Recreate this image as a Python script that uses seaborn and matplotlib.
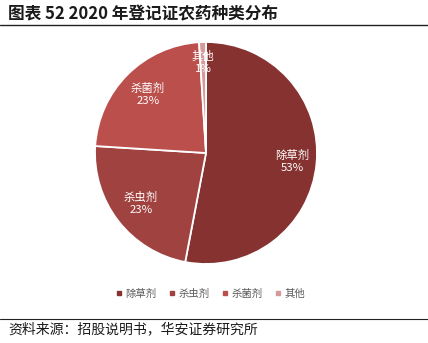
import matplotlib
matplotlib.use("Agg")
import matplotlib.pyplot as plt
from matplotlib.lines import Line2D
import numpy as np
import seaborn as sns

# Pesticide registration categories, 2020 (share of certificates, %)
categories = ["除草剂", "杀虫剂", "杀菌剂", "其他"]
shares = [53, 23, 23, 1]
colors = ["#853231", "#A04340", "#BA4F4C", "#D69A9B"]

title = "图表 52 2020 年登记证农药种类分布"
source = "资料来源：招股说明书，华安证券研究所"

sns.set_theme(style="white")
plt.rcParams["font.family"] = ["Noto Sans CJK SC", "DejaVu Sans"]

W, H = 428, 343
fig = plt.figure(figsize=(W / 100, H / 100), dpi=100)
fig.patch.set_facecolor("white")

# pie axes: square box centred on the chart area
cx, cy, r = 206, 153, 111
ax = fig.add_axes([(cx - r) / W, (H - cy - r) / H, 2 * r / W, 2 * r / H])

wedges, _ = ax.pie(
    shares,
    colors=colors,
    startangle=90,
    counterclock=False,
    wedgeprops=dict(edgecolor="white", linewidth=1.3),
)
ax.set_xlim(-1, 1)
ax.set_ylim(-1, 1)
ax.set_aspect("equal")
ax.axis("off")

# in-slice labels: name and rounded percentage
label_dist = [0.78, 0.74, 0.74, 0.82]
for w, name, val, d in zip(wedges, categories, shares, label_dist):
    ang = np.deg2rad((w.theta1 + w.theta2) / 2)
    x, y = d * np.cos(ang), d * np.sin(ang)
    ax.text(x, y, f"{name}\n{val:.0f}%", ha="center", va="center",
            color="white", fontsize=8.2, linespacing=1.25, clip_on=False)

# legend below the pie
handles = [Line2D([0], [0], marker="s", linestyle="", markersize=3.5,
                  markerfacecolor=c, markeredgecolor=c) for c in colors]
fig.legend(handles, categories, loc="center", ncol=4,
           bbox_to_anchor=(210 / W, 1 - 294 / H), frameon=False,
           fontsize=7.5, labelcolor="#595959", handletextpad=0.2,
           columnspacing=1.1, handlelength=0.8)

# header and footer
fig.text(8 / W, 1 - 14 / H, title, ha="left", va="center",
         fontsize=12, fontweight="bold", color="#1a1a1a")
fig.add_artist(Line2D([0, 1], [1 - 25 / H, 1 - 25 / H], color="#222222",
                      linewidth=1.0, transform=fig.transFigure))
fig.add_artist(Line2D([0, 1], [1 - 319 / H, 1 - 319 / H], color="#222222",
                      linewidth=0.8, transform=fig.transFigure))
fig.text(8 / W, 1 - 329 / H, source, ha="left", va="center",
         fontsize=10, color="#1a1a1a")

fig.savefig("out.png", dpi=100, facecolor="white")
